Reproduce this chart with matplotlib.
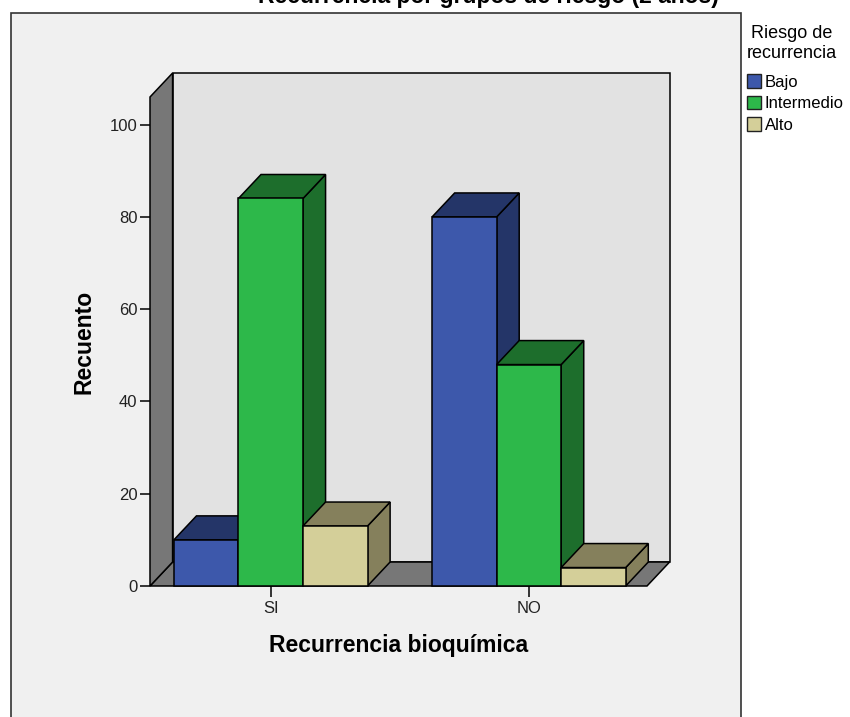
import matplotlib
matplotlib.use('Agg')
import matplotlib.pyplot as plt
from matplotlib.patches import Polygon, Rectangle, Patch

plt.rcParams['font.family'] = ['Liberation Sans', 'DejaVu Sans']

categorias = ['SI', 'NO']
riesgo = ['Bajo', 'Intermedio', 'Alto']
bajo = [10, 80]
intermedio = [84, 48]
alto = [13, 4]
yticks = [0, 20, 40, 60, 80, 100]

# colores: frente, techo/lado
col_front = {'Bajo': '#3d58ab', 'Intermedio': '#2db84a', 'Alto': '#d4cf99'}
col_top = {'Bajo': '#243568', 'Intermedio': '#1d6e2c', 'Alto': '#85805c'}

W, H = 850, 717
fig = plt.figure(figsize=(W / 100, H / 100), dpi=100)
fig.patch.set_facecolor('white')

# marco exterior (estilo SPSS)
fig.patches.append(Rectangle((11 / W, -0.05), (741 - 11) / W, (H - 13) / H + 0.05,
                             transform=fig.transFigure, facecolor='#f0f0f0',
                             edgecolor='#333333', linewidth=1.2, zorder=-5))

fig.text(488 / W, 1 - 3 / H, 'Recurrencia por grupos de riesgo (2 años)',
         ha='center', va='baseline', fontsize=16.5, fontweight='bold')

ax = fig.add_axes([150 / W, 1 - 586 / H, (647 - 150) / W, (586 - 97) / H])
ax.set_facecolor('none')
xl, xr = -1.87, 5.83
ymax = 106
ax.set_xlim(xl, xr)
ax.set_ylim(0, ymax)
dx, dy = 0.35, 5.2
lw = 1.1

# paredes
ax.add_patch(Polygon([(xl + dx, dy), (xr + dx, dy), (xr + dx, ymax + dy), (xl + dx, ymax + dy)],
                     closed=True, facecolor='#e2e2e2', edgecolor='black', lw=lw, clip_on=False, zorder=1))
ax.add_patch(Polygon([(xl, 0), (xr, 0), (xr + dx, dy), (xl + dx, dy)],
                     closed=True, facecolor='#777777', edgecolor='black', lw=lw, clip_on=False, zorder=2))
ax.add_patch(Polygon([(xl, 0), (xl + dx, dy), (xl + dx, ymax + dy), (xl, ymax)],
                     closed=True, facecolor='#777777', edgecolor='black', lw=lw, clip_on=False, zorder=2))

series = {'Bajo': bajo, 'Intermedio': intermedio, 'Alto': alto}
z = 3
for i, cat in enumerate(categorias):
    centro = i * 4
    for j, r in enumerate(riesgo):
        x0 = centro - 1.5 + j
        x1 = x0 + 1
        h = series[r][i]
        ax.add_patch(Polygon([(x1, 0), (x1 + dx, dy), (x1 + dx, h + dy), (x1, h)], closed=True,
                             facecolor=col_top[r], edgecolor='black', lw=lw, clip_on=False, zorder=z))
        ax.add_patch(Polygon([(x0, h), (x1, h), (x1 + dx, h + dy), (x0 + dx, h + dy)], closed=True,
                             facecolor=col_top[r], edgecolor='black', lw=lw, clip_on=False, zorder=z))
        ax.add_patch(Rectangle((x0, 0), 1, h, facecolor=col_front[r], edgecolor='black',
                               lw=lw, clip_on=False, zorder=z))
        z += 1

for s in ax.spines.values():
    s.set_visible(False)
ax.set_yticks(yticks)
ax.set_xticks([0, 4])
ax.set_xticklabels(categorias)
ax.tick_params(axis='both', direction='out', length=7, width=1.1, colors='black',
               labelsize=12, pad=2, labelcolor='#222222')
ax.tick_params(axis='x', length=8, pad=3)

ax.set_xlabel('Recurrencia bioquímica', fontsize=16.5, fontweight='bold', labelpad=13)
ax.set_ylabel('Recuento', fontsize=16.5, fontweight='bold', labelpad=10)

handles = [Patch(facecolor=col_front[r], edgecolor='#222222', label=r) for r in riesgo]
leg = fig.legend(handles=handles, title='Riesgo de\nrecurrencia', loc='upper left',
                 bbox_to_anchor=(747 / W, 1 - 25 / H), frameon=False, fontsize=12,
                 title_fontsize=13, handlelength=0.85, handleheight=0.9,
                 handletextpad=0.2, labelspacing=0.35, borderpad=0, borderaxespad=0)
leg._legend_box.align = 'left'
leg._legend_box.sep = 9
leg.get_title().set_multialignment('center')

fig.savefig('out.png', dpi=100)
